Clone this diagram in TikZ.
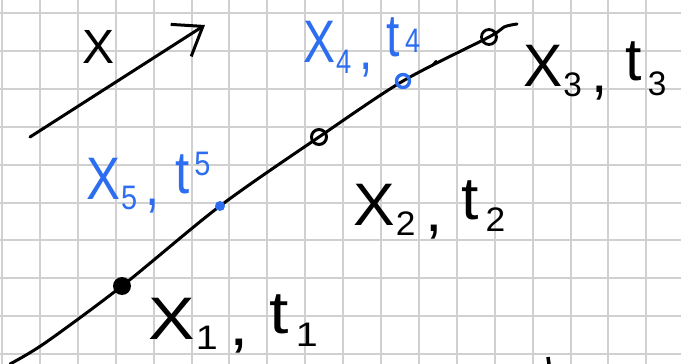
\documentclass[tikz,border=0pt]{standalone}
\usepackage{fontspec}
\setmainfont{Liberation Sans}
\usetikzlibrary{arrows.meta}
\definecolor{inkblue}{RGB}{45,110,240}
\definecolor{gridgray}{RGB}{208,208,208}
\newcommand{\subsz}{\fontsize{34}{34}\selectfont}
% point label: [width factor]{index}{raise of the t index}
\newcommand{\ptlab}[3][1]{\scalebox{#1}[1]{X\kern1pt\raisebox{-10pt}{\subsz #2}\kern10pt\raisebox{-6pt}{,}\kern18pt\raisebox{6pt}{t}\kern6pt\raisebox{#3}{\subsz #2}}}

\begin{document}
\begin{tikzpicture}[x=1pt, y=-1pt,
  gridline/.style={gridgray, line width=2pt},
  ink/.style={line width=3pt, line cap=round, line join=round},
  lab/.style={anchor=base west, inner sep=0pt, font=\fontsize{60}{60}\selectfont},
  knot/.style={circle, inner sep=0pt, minimum size=#1},
]
  \fill[white] (0,0) rectangle (681,364);
  \useasboundingbox (0,0) rectangle (681,364);
  % squared paper
  \foreach \i in {0,...,17}
    \draw[gridline] ({2+37.9*\i},0) -- ({2+37.9*\i},364);
  \foreach \j in {0,...,9}
    \draw[gridline] (0,{13+37.9*\j}) -- (681,{13+37.9*\j});

  % direction of x
  \coordinate (xa) at (30,137);
  \coordinate (xb) at (205,25);
  \draw[ink, -{Straight Barb[length=26pt,width=38pt]}] (xa) -- (xb);
  \node[font=\fontsize{48}{48}\selectfont, inner sep=0pt] (xlab) at (99,47) {X};

  % the curve through the points
  \coordinate (c0) at (10,364);
  \coordinate (p1) at (122,286);
  \coordinate (p5) at (220,206);
  \coordinate (p2) at (319,137);
  \coordinate (p4) at (403,81);
  \coordinate (p3) at (489,37);
  \coordinate (c9) at (517,24);
  \draw[ink] plot[smooth, tension=0.5] coordinates {(c0) (45,343) (p1)
    (p5) (p2) (p4) (p3) (504,27) (c9)};
  \draw[ink, line width=2.2pt] (432,66) -- (436,61);

  \node[knot=18pt, fill=black] (d1) at (p1) {};
  \node[knot=15pt, draw, line width=3pt] (d2) at (p2) {};
  \node[knot=15pt, draw, line width=2.8pt] (d3) at (p3) {};
  \node[knot=13pt, draw=inkblue, line width=3.4pt] (d4) at (p4) {};
  \node[knot=10pt, fill=inkblue] (d5) at (p5) {};

  \node[lab] (l1) at (148,339) {\ptlab[1.16]{1}{-7pt}};
  \node[lab] (l2) at (353,225) {\ptlab[1.04]{2}{-6pt}};
  \node[lab] (l3) at (523,86) {\ptlab[0.98]{3}{-9pt}};
  \node[lab, inkblue] (l4) at (303,63) {\ptlab[0.8]{4}{10pt}};
  \node[lab, inkblue] (l5) at (86,199) {\ptlab[0.85]{5}{24pt}};

  \draw[line width=3.5pt] (548,357) -- (549,364);
\end{tikzpicture}
\end{document}
